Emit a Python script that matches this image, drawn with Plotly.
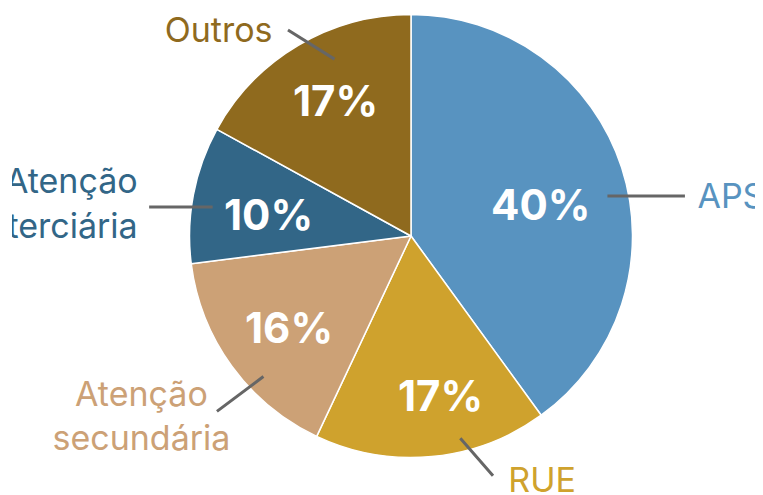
import math
import plotly.graph_objects as go

labels = ["APS", "RUE", "Atenção<br>secundária", "Atenção<br>terciária", "Outros"]
values = [40, 17, 16, 10, 17]
colors = ["#5893c0", "#cfa22d", "#cca176", "#326687", "#8f6a1e"]

W, H = 763, 495
ML, MR = 12, 8  # visible area is clipped a little at both sides
cx, cy, r = 411, 236, 221.5
PW = W - ML - MR

# leader line tweaks per slice: angle nudge (deg), start radius, line vector, label offset, text position
leader = [
    dict(nudge=6.5, rf=0.905, line=(79, 0), lab=(11, 3), pos="middle right"),
    dict(nudge=-8.3, rf=0.94, line=(34, 39), lab=(14, 6), pos="middle right"),
    dict(nudge=-7.6, rf=0.92, line=(-48, 36), lab=(-74, 7), pos="middle center"),
    dict(nudge=-2.5, rf=0.905, line=(-65, 0), lab=(-10, 0), pos="middle left"),
    dict(nudge=7.2, rf=0.87, line=(-48, -30), lab=(-14, 4), pos="middle left"),
]
# percentage label radius per slice (fraction of radius) and angle nudge
pct_pos = [(0.6, 4.5), (0.73, -5), (0.69, -1), (0.65, -2.3), (0.7, 1.4)]

fig = go.Figure()
fig.add_trace(go.Pie(
    labels=labels, values=values, sort=False, direction="clockwise", rotation=0,
    marker=dict(colors=colors, line=dict(color="white", width=1.5)),
    textinfo="none", hoverinfo="none", showlegend=False,
    domain=dict(x=[(cx - r - ML) / PW, (cx + r - ML) / PW], y=[(H - cy - r) / H, (H - cy + r) / H]),
))

total = sum(values)
ann = []
start = 0
for i, v in enumerate(values):
    mid = start + v / total * 360 / 2
    start += v / total * 360
    # percentage inside
    pr, pn = pct_pos[i]
    a = math.radians(mid + pn)
    px, py = cx + pr * r * math.sin(a), cy - pr * r * math.cos(a)
    ann.append(dict(x=px, y=py, xref="x", yref="y", showarrow=False,
                    text="%d%%" % round(v / total * 100),
                    font=dict(family="Inter", size=42, color="white", weight="bold")))
    # leader line and outside label
    L = leader[i]
    b = math.radians(mid + L["nudge"])
    sx, sy = cx + L["rf"] * r * math.sin(b), cy - L["rf"] * r * math.cos(b)
    ex, ey = sx + L["line"][0], sy + L["line"][1]
    ann.append(dict(x=sx, y=sy, ax=ex, ay=ey, xref="x", yref="y", axref="x", ayref="y",
                    text="", showarrow=True, arrowhead=0, arrowwidth=3, arrowcolor="#666666",
                    standoff=0, startstandoff=0))
    fig.add_trace(go.Scatter(
        x=[ex + L["lab"][0]], y=[ey + L["lab"][1]], mode="text", text=[labels[i]],
        textposition=L["pos"], cliponaxis=True, hoverinfo="skip", showlegend=False,
        textfont=dict(family="Inter", size=34, color=colors[i])))

fig.update_layout(
    width=W, height=H, margin=dict(l=ML, r=MR, t=0, b=0),
    paper_bgcolor="white", plot_bgcolor="white",
    xaxis=dict(range=[ML, W - MR], visible=False, fixedrange=True),
    yaxis=dict(range=[H, 0], visible=False, fixedrange=True),
    annotations=ann,
)
fig.write_html("out.html", config={"displayModeBar": False},
               post_script="document.body.style.margin='0';")
